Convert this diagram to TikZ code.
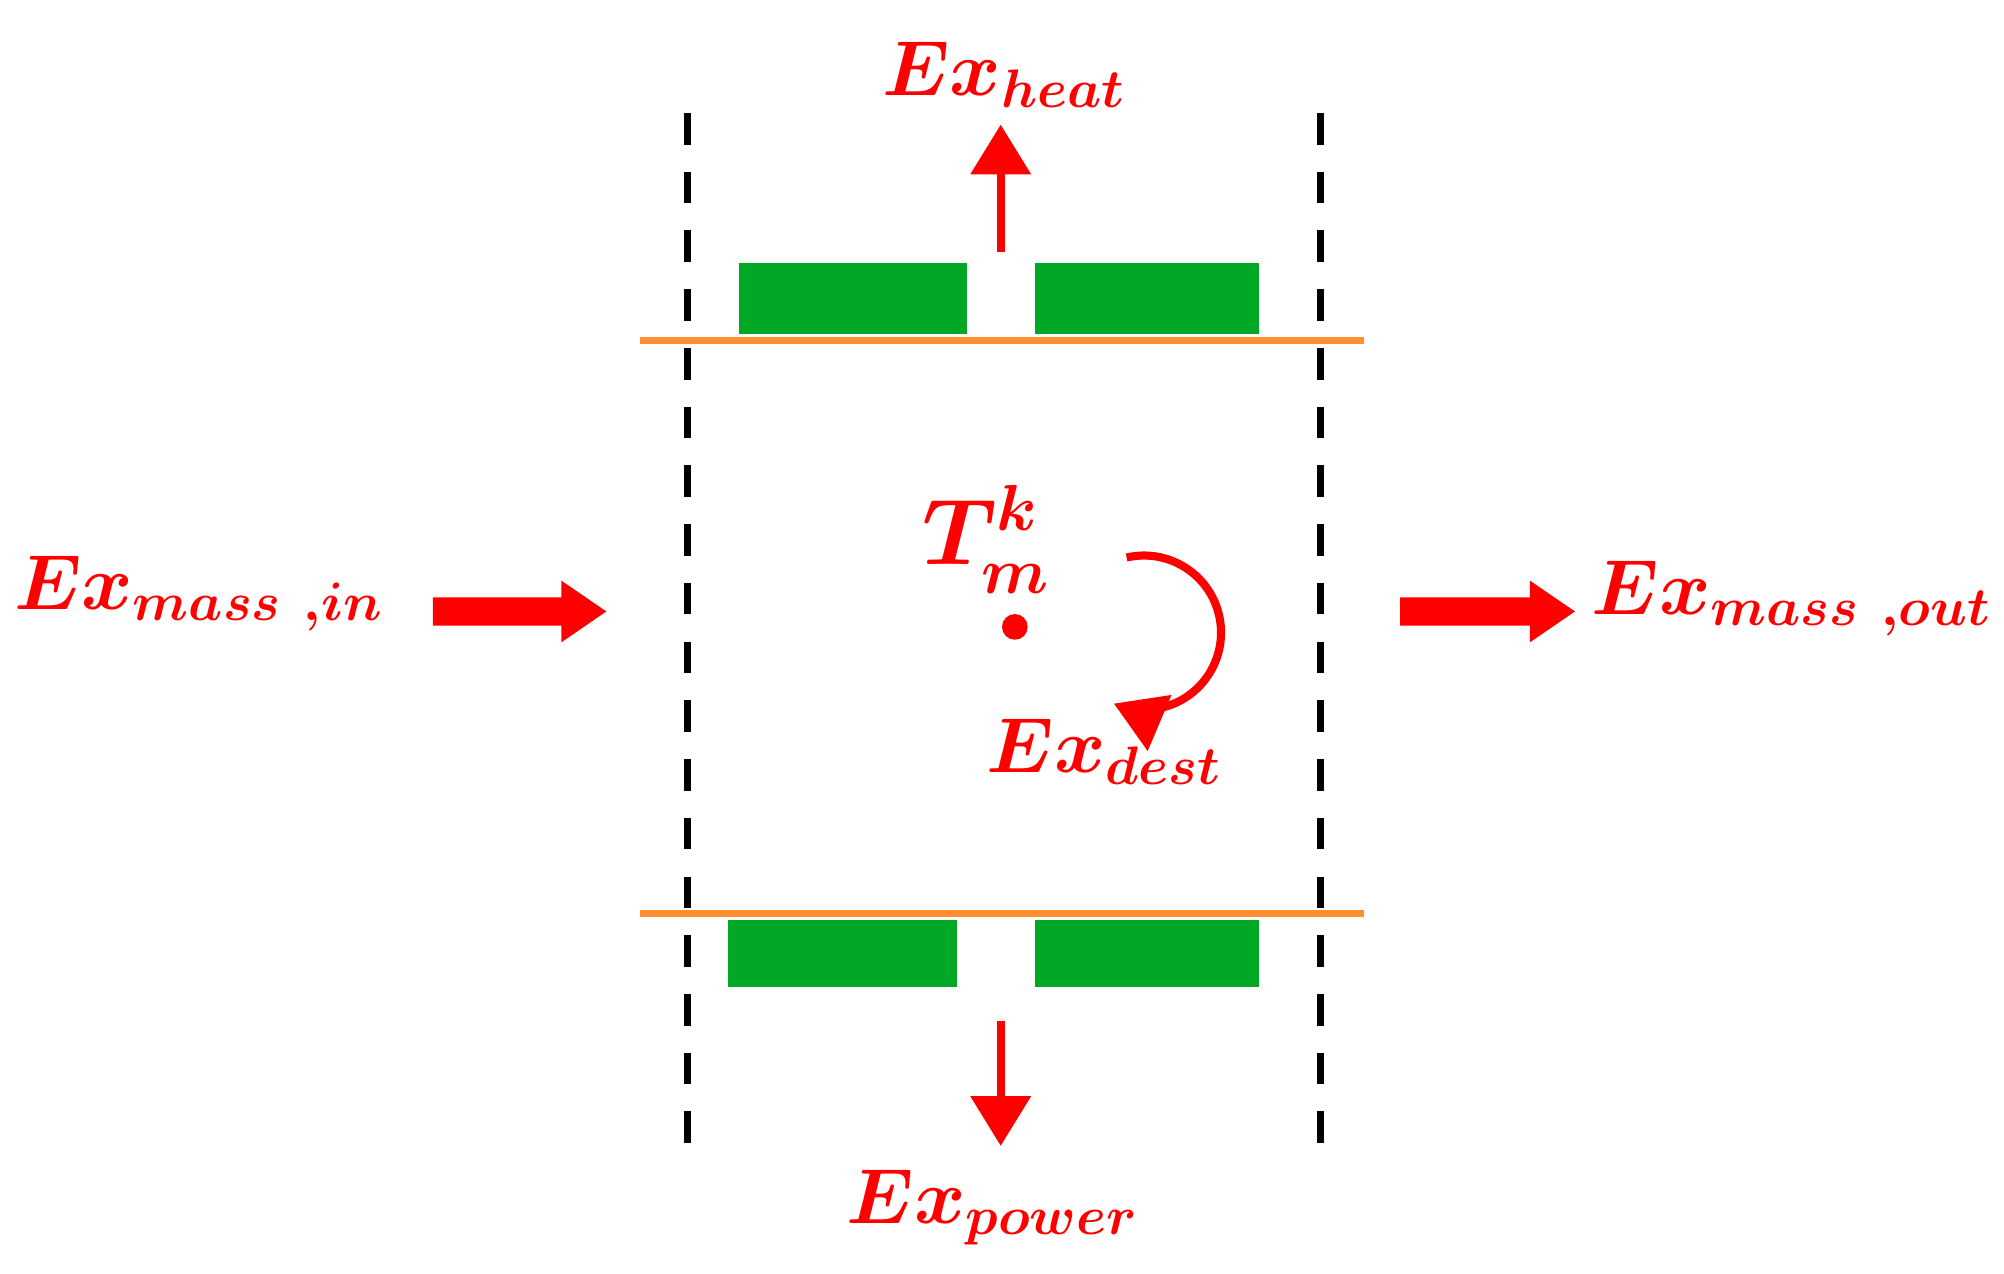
\documentclass[tikz,border=0pt]{standalone}
\usetikzlibrary{arrows.meta}
\begin{document}
\begin{tikzpicture}[x=0.01cm,y=-0.01cm,
  lbl/.style={text=red,font=\fontsize{17}{20}\selectfont\boldmath,inner sep=0},
  grn/.style={fill=green!60!black!85!cyan,draw=none},
  org/.style={draw=orange!90!red!80,line width=1.7pt},
  dsh/.style={draw=black,line width=1.6pt,dash pattern=on 7pt off 6pt},
  rarr/.style={draw=red,line width=1.8pt,-{Triangle[length=11pt,width=13pt]}}]
\useasboundingbox (0,0) rectangle (1560,991);
% green plates
\fill[grn] (575,205) rectangle (753,260);
\fill[grn] (806,205) rectangle (980,260);
\fill[grn] (567,716) rectangle (745,768);
\fill[grn] (806,716) rectangle (980,768);
% orange walls
\coordinate (o1) at (498,265); \coordinate (o2) at (1062,265);
\coordinate (o3) at (498,711); \coordinate (o4) at (1062,711);
\draw[org] (o1) -- (o2);
\draw[org] (o3) -- (o4);
% dashed boundaries
\coordinate (d1) at (535,88); \coordinate (d2) at (535,910);
\coordinate (d3) at (1028,88); \coordinate (d4) at (1028,910);
\draw[dsh] (d1) -- (d2);
\draw[dsh] (d3) -- (d4);
% labels
\node[lbl] (heat) at (782,58) {$Ex_{heat}$};
\node[lbl] (pow) at (773,940) {$Ex_{power}$};
\node[lbl] (min) at (155,462) {$Ex_{mass\ ,in}$};
\node[lbl] (mout) at (1395,466) {$Ex_{mass\ ,out}$};
\node[lbl] (dest) at (860,585) {$Ex_{dest}$};
\node[lbl,font=\fontsize{20}{24}\selectfont\boldmath] (T) at (768,420) {$T_m^k$};
% arrows
\coordinate (hu0) at (779,196); \coordinate (hu1) at (779,97);
\draw[rarr] (hu0) -- (hu1);
\coordinate (pd0) at (779,795); \coordinate (pd1) at (779,892);
\draw[rarr] (pd0) -- (pd1);
\fill[red] (337,465) -- (437,465) -- (437,452) -- (472,476) -- (437,500) -- (437,487) -- (337,487) -- cycle;
\fill[red] (1090,465) -- (1191,465) -- (1191,452) -- (1226,476) -- (1191,500) -- (1191,487) -- (1090,487) -- cycle;
\fill[red] (790,488) circle (10);
\draw[rarr] (877,434) arc[start angle=-103,end angle=113,radius=60];
\end{tikzpicture}
\end{document}
